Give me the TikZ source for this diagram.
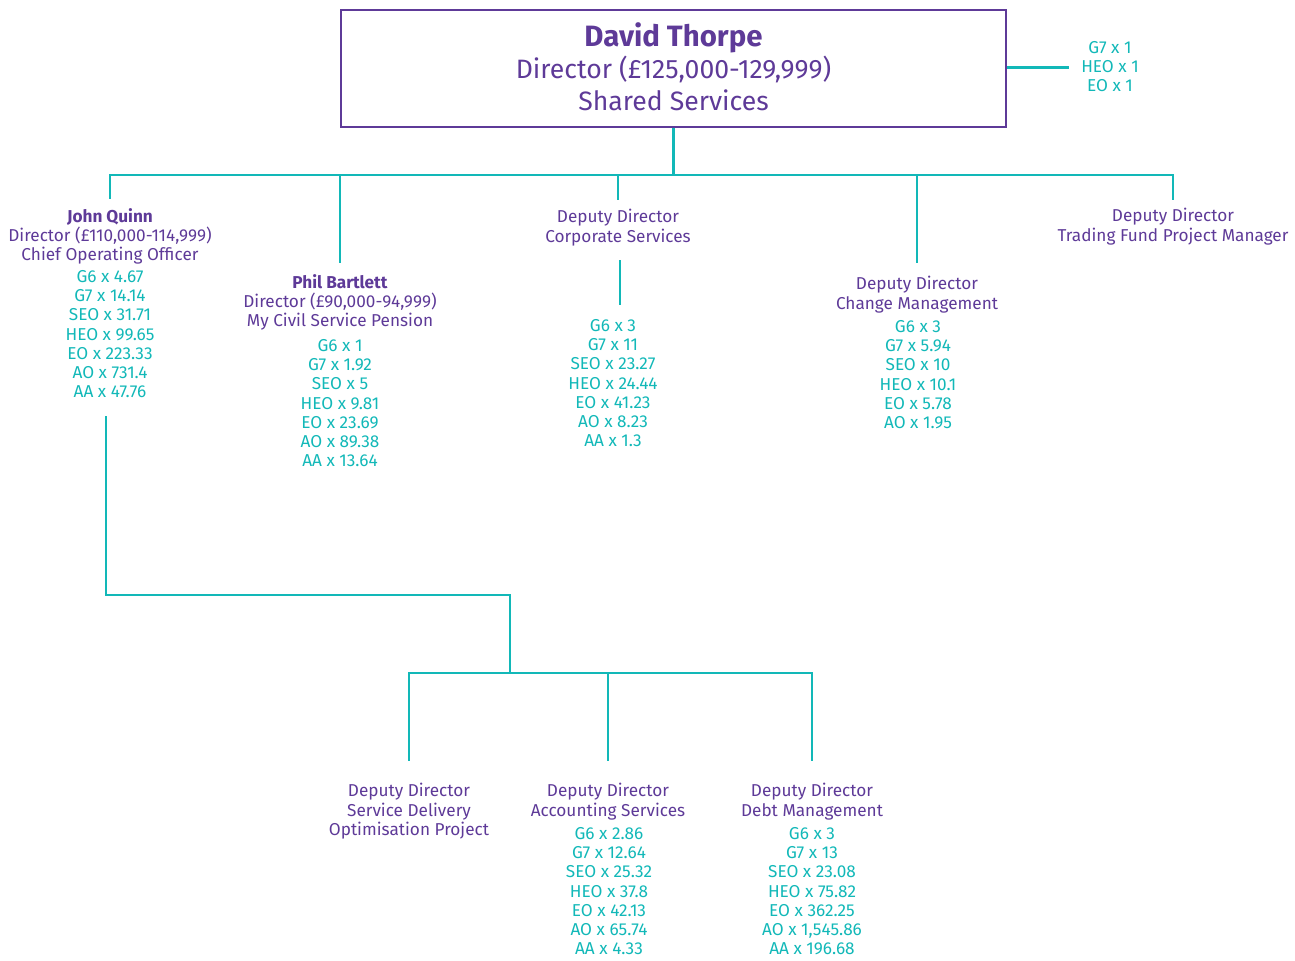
\documentclass[tikz,border=0pt]{standalone}
\usepackage{fontspec}
\setmainfont{Fira Sans}
\definecolor{cspurple}{RGB}{94,58,152}
\definecolor{csteal}{RGB}{18,184,184}
\begin{document}
\begin{tikzpicture}[x=0.5pt,y=-0.5pt,
    jobtitle/.style={text=cspurple,align=center,inner sep=0pt,anchor=north,font=\fontsize{8.6}{9.6}\selectfont},
    grades/.style={text=csteal,align=center,inner sep=0pt,anchor=north,font=\fontsize{8.6}{9.6}\selectfont},
    linkline/.style={csteal,line width=1.4pt}]
  \useasboundingbox (0,0) rectangle (1295,960);
  % director box
  \node[draw=cspurple,line width=1.3pt,text=cspurple,align=center,minimum width=332.5pt,minimum height=58.5pt,
    text depth=2pt,font=\fontsize{13.3}{16}\selectfont] (dt) at (673.5,68.5)
    {{\fontsize{14.7}{16}\selectfont\bfseries David Thorpe}\\Director (£125,000-129,999)\\Shared Services};
  \node[grades] (dtg) at (1110,41) {G7 x 1\\HEO x 1\\EO x 1};
  \draw[linkline] ([yshift=0.5pt]dt.east) -- ([xshift=-6pt,yshift=0.5pt]dt.east -| dtg.west);
  % first row
  \node[jobtitle] (jq) at (110,208) {\textbf{John Quinn}\\Director (£110,000-114,999)\\Chief Operating Officer};
  \node[grades] (jqg) at (110,270) {G6 x 4.67\\G7 x 14.14\\SEO x 31.71\\HEO x 99.65\\EO x 223.33\\AO x 731.4\\AA x 47.76};
  \node[jobtitle] (pb) at (340,274) {\textbf{Phil Bartlett}\\Director (£90,000-94,999)\\My Civil Service Pension};
  \node[grades] (pbg) at (340,339) {G6 x 1\\G7 x 1.92\\SEO x 5\\HEO x 9.81\\EO x 23.69\\AO x 89.38\\AA x 13.64};
  \node[jobtitle] (cs) at (618,209) {Deputy Director\\Corporate Services};
  \node[grades] (csg) at (613,319) {G6 x 3\\G7 x 11\\SEO x 23.27\\HEO x 24.44\\EO x 41.23\\AO x 8.23\\AA x 1.3};
  \node[jobtitle] (cm) at (917,276) {Deputy Director\\Change Management};
  \node[grades] (cmg) at (918,320) {G6 x 3\\G7 x 5.94\\SEO x 10\\HEO x 10.1\\EO x 5.78\\AO x 1.95};
  \node[jobtitle] (tf) at (1173,208) {Deputy Director\\Trading Fund Project Manager};
  % second row
  \node[jobtitle] (sd) at (409,783) {Deputy Director\\Service Delivery\\Optimisation Project};
  \node[jobtitle] (as) at (608,783) {Deputy Director\\Accounting Services};
  \node[grades] (asg) at (609,827) {G6 x 2.86\\G7 x 12.64\\SEO x 25.32\\HEO x 37.8\\EO x 42.13\\AO x 65.74\\AA x 4.33};
  \node[jobtitle] (dm) at (812,783) {Deputy Director\\Debt Management};
  \node[grades] (dmg) at (812,827) {G6 x 3\\G7 x 13\\SEO x 23.08\\HEO x 75.82\\EO x 362.25\\AO x 1,545.86\\AA x 196.68};
  % connectors
  \coordinate (hub) at (673.5,175);
  \coordinate (elbow) at (510,595);
  \coordinate (lowhub) at (510,673);
  \draw[linkline] (dt.south) -- (hub);
  \foreach \n/\gap in {jq/4.5,pb/5.5,cs/4.5,cm/6.5,tf/4}
    \draw[linkline,shorten >=\gap pt] (hub) -| (\n.north);
  \draw[linkline] (cs.south) ++(1pt,-7pt) -- ([xshift=1pt,yshift=7pt]cs.south |- csg.north);
  \draw[linkline,shorten <=9pt] ([xshift=-2pt]jqg.south) |- (elbow) -- (lowhub);
  \foreach \n in {sd,as,dm}
    \draw[linkline,shorten >=11pt] (lowhub) -| (\n.north);
\end{tikzpicture}
\end{document}
